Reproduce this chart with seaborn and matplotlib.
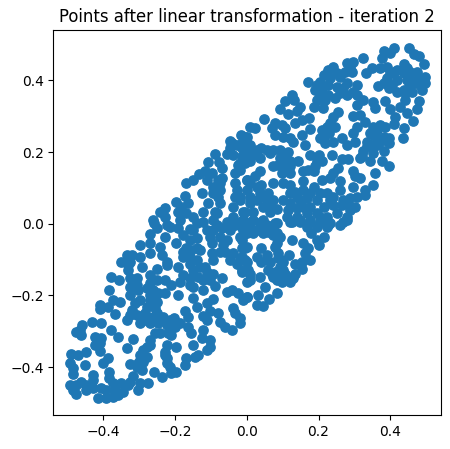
import numpy as np
import pandas as pd
import matplotlib
matplotlib.use("Agg")
import matplotlib.pyplot as plt
import seaborn as sns

upper_left = [(.009,.269),(-.016,.248),(0,.242),(-.046,.232),(-.028,.220),(-.047,.211),(-.056,.195),(-.039,.192),(-.014,.211),(-.088,.195),(-.109,.172),(-.078,.172),(-.070,.155),(-.024,.164),(-.005,.171),(-.033,.141),(-.168,.115),(-.149,.122),(-.132,.139),(-.117,.146),(-.096,.141),(-.068,.127),(-.112,.122),(-.093,.104),(-.075,.095),(0,.122),(-.033,.113),(-.028,.095),(-.019,.076),(-.124,.085),(-.172,.078),(-.197,.062),(-.163,.057),(-.182,.048),(-.228,.043),(-.242,.034),(-.191,.034),(-.107,.057),(-.089,.034),(-.075,.057),(-.037,.048),(-.010,.034),(-.261,.011),(-.228,.020),(-.149,.020),(-.121,.034),(-.168,.029),(-.056,.006),(-.033,.006),(-.014,-.008),(-.093,.011),(-.214,-.008),(-.251,-.012),(-.158,-.015),(-.121,.006),(-.070,-.012)]

lower_left = [(-.259,.001),(-.223,-.004),(-.191,-.013),(-.270,-.029),(-.228,-.036),(-.177,-.032),(-.149,-.018),(-.112,-.018),(-.084,-.004),(-.047,-.018),(-.010,-.018),(-.298,-.059),(-.270,-.055),(-.196,-.053),(-.158,-.045),(-.140,-.041),(-.098,-.055),(-.065,-.059),(-.075,-.078),(-.038,-.083),(0,-.064),(-.270,-.083),(-.242,-.064),(-.335,-.087),(-.349,-.106),(-.326,-.106),(-.298,-.092),(-.237,-.087),(-.223,-.106),(-.177,-.078),(-.158,-.092),(-.098,-.083),(-.140,-.101),(-.093,-.101),(-.191,-.120),(-.251,-.125),(-.293,-.120),(-.223,-.115),(-.047,-.101),(-.019,-.097),(0,-.106),(-.135,-.148),(-.112,-.134),(-.093,-.139),(-.014,-.134),(.009,-.139),(-.149,-.129),(-.270,-.143),(-.330,-.129),(-.377,-.148),(-.356,-.157),(-.326,-.152),(-.307,-.152),(-.251,-.157),(-.228,-.157),(-.158,-.152),(-.121,-.157),(-.070,-.152),(0,-.162),(-.326,-.176),(-.383,-.185),(-.303,-.185),(-.279,-.180),(-.270,-.166),(-.210,-.171),(-.186,-.162),(-.149,-.176),(-.121,-.185),(-.089,-.174),(-.042,-.185),(-.056,-.190),(-.024,-.194),(0,-.204),(-.326,-.199),(-.191,-.199),(-.228,-.194),(-.247,-.194),(-.270,-.199),(-.354,-.218),(-.372,-.213),(-.410,-.227),(-.410,-.239),(-.386,-.232),(-.312,-.222),(-.298,-.213),(-.270,-.213),(-.251,-.218),(-.149,-.208),(-.112,-.222),(-.093,-.211),(-.140,-.232),(-.038,-.236),(-.033,-.250),(-.368,-.253),(-.321,-.241),(-.256,-.236),(-.172,-.243),(-.121,-.258),(-.103,-.245),(-.079,-.250),(-.335,-.269),(-.326,-.255),(-.307,-.255),(-.284,-.250),(-.261,-.259),(-.203,-.264),(-.163,-.259),(-.075,-.273),(-.019,-.264),(-.019,-.278),(-.298,-.278),(-.270,-.278),(-.247,-.278),(-.223,-.283),(-.186,-.278),(-.163,-.287),(-.112,-.269),(-.061,-.287),(-.042,-.297),(-.431,-.275),(-.405,-.278),(-.459,-.283),(-.465,-.297),(-.475,-.301),(-.461,-.311),(-.377,-.297),(-.358,-.315),(-.423,-.317),(-.405,-.320),(-.410,-.334),(-.423,-.338),(-.317,-.323),(-.270,-.324),(-.242,-.306),(-.210,-.311),(-.154,-.306),(-.121,-.297),(-.103,-.324),(-.126,-.320),(-.333,-.348),(-.289,-.352),(-.270,-.338),(-.223,-.338),(-.197,-.343),(-.149,-.338),(-.103,-.343),(-.112,-.352),(-.410,-.354),(-.447,-.357),(-.491,-.365),(-.470,-.366),(-.386,-.376),(-.400,-.390),(-.451,-.394),(-.493,-.390),(-.484,-.403),(-.484,-.419),(-.298,-.366),(-.279,-.371),(-.228,-.366),(-.168,-.376),(-.144,-.371),(-.135,-.366),(-.326,-.391),(-.303,-.390),(-.289,-.385),(-.223,-.390),(-.214,-.399),(-.172,-.394),(-.317,-.424),(-.293,-.408),(-.259,-.413),(-.237,-.429),(-.196,-.413),(-.210,-.416),(-.383,-.413),(-.383,-.431),(-.428,-.422),(-.428,-.436),(-.461,-.441),(-.493,-.450),(-.475,-.450),(-.484,-.464),(-.475,-.475),(-.447,-.450),(-.428,-.459),(-.405,-.459),(-.372,-.445),(-.349,-.445),(-.330,-.450),(-.303,-.464),(-.298,-.445),(-.275,-.445),(-.344,-.469),(-.358,-.478),(-.414,-.487),(-.391,-.487),(-.372,-.483)]

lower_right = [(.125,.006),(.148,.006),(.176,.006),(.204,.006),(.227,-.004),(.260,-.004),(.279,.010),(.178,-.027),(.214,-.036),(.125,-.044),(.158,-.055),(.200,-.059),(.172,-.069),(.041,-.069),(.093,-.036),(.074,-.008),(.083,-.055),(.028,-.094),(.055,-.087),(.041,-.106),(.065,-.106),(.088,-.083),(.119,-.087),(.102,-.106),(.176,-.101),(.153,-.106),(.093,-.120),(.060,-.129),(.074,-.148),(.102,-.129),(.116,-.148),(.130,-.152),(.153,-.127),(.004,-.129),(.037,-.148),(.009,-.157),(.051,-.176),(.083,-.192),(0,-.204),(.032,-.199),(.063,-.211),(.028,-.227),(.044,-.230),(-.010,-.213),(-.005,-.069),(-.014,-.092),(-.005,-.100),(-.014,-.129),(.018,-.027),(0,-.018),(.037,-.008),(.060,-.022),(.009,.006),(.041,.006),(.083,.001),(-.014,-.045),(-.014,-.069),(.074,-.032),(.097,-.101),(.107,-.139),(.083,-.157),(.093,-.143)]

upper_right = [(.409,.490),(.381,.483),(.400,.476),(.451,.490),(.465,.474),(.480,.468),(.378,.462),(.325,.462),(.494,.445),(.439,.445),(.297,.453),(.279,.448),(.288,.439),(.348,.434),(.372,.434),(.390,.437),(.409,.425),(.333,.420),(.474,.425),(.437,.420),(.455,.425),(.240,.437),(.225,.429),(.274,.425),(.232,.406),(.260,.411),(.172,.395),(.204,.397),(.497,.411),(.497,.392),(.488,.374),(.465,.392),(.446,.401),(.418,.401),(.390,.406),(.367,.385),(.395,.378),(.418,.369),(.307,.388),(.279,.392),(.251,.383),(.209,.378),(.190,.374),(.437,.374),(.460,.369),(.125,.360),(.107,.344),(.132,.346),(.195,.346),(.218,.346),(.246,.350),(.279,.360),(.307,.360),(.325,.346),(.307,.332),(.386,.343),(.441,.346),(.479,.343),(.353,.341),(.358,.322),(.148,.325),(.141,.315),(.186,.327),(.212,.322),(.093,.320),(.116,.307),(.400,.321),(.427,.327),(.474,.320),(.255,.313),(.241,.299),(.446,.308),(.463,.288),(.413,.299),(.411,.279),(.049,.292),(.079,.281),(.097,.276),(.134,.282),(.153,.290),(.174,.295),(.297,.301),(.316,.304),(.330,.285),(.437,.267),(.023,.267),(.069,.267),(.107,.267),(.176,.265),(.223,.271),(.209,.262),(.232,.281),(.246,.271),(.307,.271),(.353,.271),(.372,.276),(.386,.271),(.079,.248),(.121,.239),(.102,.243),(.153,.248),(.214,.243),(.297,.253),(.358,.243),(.395,.239),(.434,.239),(-.005,.242),(-.014,.225),(.162,.220),(.130,.229),(.218,.225),(.241,.229),(.265,.239),(.279,.220),(.302,.229),(.334,.229),(.362,.220),(.395,.225),(.041,.211),(.009,.206),(-.010,.211),(.074,.206),(.093,.206),(.116,.199),(-.014,.188),(.018,.192),(.176,.192),(.200,.192),(.237,.192),(.265,.181),(.283,.181),(.325,.202),(.381,.202),(.353,.197),(.316,.183),(-.019,.169),(.009,.174),(.037,.183),(.102,.183),(.144,.176),(.195,.174),(.376,.174),(.395,.160),(.344,.174),(.074,.160),(.121,.160),(.172,.150),(.158,.146),(.186,.146),(.255,.155),(.297,.146),(.241,.141),(.358,.141),(.037,.146),(0,.122),(.023,.132),(.097,.141),(.121,.141),(.209,.122),(.232,.127),(.316,.127),(.302,.132),(.353,.109),(.330,.095),(.330,.079),(.074,.113),(.041,.109),(.102,.113),(.121,.109),(.158,.118),(.260,.118),(0,.095),(.037,.085),(.060,.085),(.134,.090),(.158,.095),(.186,.104),(.204,.085),(.260,.095),(.297,.104),(-.019,.067),(.009,.076),(.074,.067),(.102,.067),(.148,.067),(.167,.071),(.223,.085),(.241,.076),(.269,.067),(.307,.076),(.302,.048),(-.005,.034),(.018,.034),(.083,.042),(.046,.048),(.116,.039),(.139,.043),(.176,.048),(.214,.048),(.241,.053),(.265,.053),(.288,.039),(.251,.029),(-.010,.011),(.018,.011),(.046,.011),(.079,.002),(.121,.006),(.148,.011),(.176,.011),(.204,.020),(.232,.002),(.269,.006),(.195,-.008)]

dense_upper = [(.121,.085),(.139,.076),(.121,.057),(.158,.048),(.195,.067),(.195,.029),(.167,.029),(.139,.020),(.223,.020),(.232,.067),(.279,.057),(.288,.071),(.176,.085),(.279,.020),(.111,.020),(.167,-.008),(.223,-.008),(.418,.429),(.446,.434),(.400,.420),(.455,.401),(.474,.401),(.483,.388),(.451,.383),(.381,.392),(.404,.388),(.441,.364),(.293,.425),(.251,.420),(.214,.415),(.195,.388),(.227,.388),(.269,.378),(.227,.360),(.204,.360),(.260,.364),(.297,.369),(.228,.253),(.204,.239),(.362,.262),(.344,.253),(.381,.243),(.372,.229),(.353,.216),(.334,.216),(.320,.188),(.209,.174),(.190,.160),(.009,.220),(.028,.206),(.055,.206),(.065,.197),(.093,.183),(.088,.164),(.107,.160),(.121,.174),(0,.188),(-.019,.150),(.009,.113),(.028,.104),(.041,.076),(.055,.067),(.028,.067),(.065,.048),(.009,.057),(.065,.034),(.009,-.008),(.037,-.008),(-.042,.225),(0,.225),(-.079,.122),(-.079,.076),(-.093,.085),(-.075,.113),(-.033,.076),(-.084,.029),(-.037,.020),(-.010,.011),(-.140,.002),(-.186,.011)]

dense_lower = [(.028,-.018),(.055,-.004),(.046,-.027),(-.010,-.032),(.083,-.027),(.079,-.064),(.088,-.097),(.079,-.134),(.097,-.162),(.121,-.162),(.134,-.139),(.162,-.083),(.134,-.111),(.195,-.046),(-.010,-.008),(.069,-.139),(-.261,-.185),(-.256,-.204),(-.265,-.227),(-.279,-.232),(-.251,-.250),(-.270,-.264),(-.233,-.259),(-.284,-.269),(-.330,-.115),(-.307,-.171),(-.321,-.087),(-.177,-.092),(-.168,-.069),(-.154,-.073),(-.130,-.073),(-.130,-.120),(-.158,-.111),(-.177,-.143),(-.158,-.171),(-.117,-.120),(-.103,-.157),(-.228,-.269),(-.214,-.269),(-.200,-.287),(-.219,-.306),(-.256,-.306),(-.279,-.343),(-.298,-.380),(-.307,-.399),(-.223,-.376),(-.228,-.357),(-.093,-.018),(-.075,-.036),(-.056,-.045),(-.019,-.036),(0,-.027),(-.033,-.004),(-.103,-.036),(-.140,-.069),(-.061,-.078),(-.028,-.111),(-.447,-.464),(-.368,-.464),(-.391,-.464),(-.326,-.441)]

tick_values = [-0.4, -0.2, 0.0, 0.2, 0.4]
title_text = "Points after linear transformation - iteration 2"

points = np.array(upper_left + lower_left + lower_right + upper_right + dense_upper + dense_lower)
df = pd.DataFrame({"x": points[:, 0], "y": points[:, 1]})

fig = plt.figure(figsize=(4.5, 4.49), dpi=100)
ax = fig.add_axes([53.3 / 450, 34 / 449, 388 / 450, 385 / 449])
sns.scatterplot(data=df, x="x", y="y", ax=ax, color="#1f77b4", s=45,
                edgecolor="#1f77b4", linewidth=1, alpha=1)
ax.set_xlim(-0.539, 0.542)
ax.set_ylim(-0.534, 0.541)
ax.set_xticks(tick_values)
ax.set_yticks(tick_values)
ax.set_xlabel("")
ax.set_ylabel("")
ax.set_title(title_text, fontsize=11.9)
fig.savefig("out.png", dpi=100)
